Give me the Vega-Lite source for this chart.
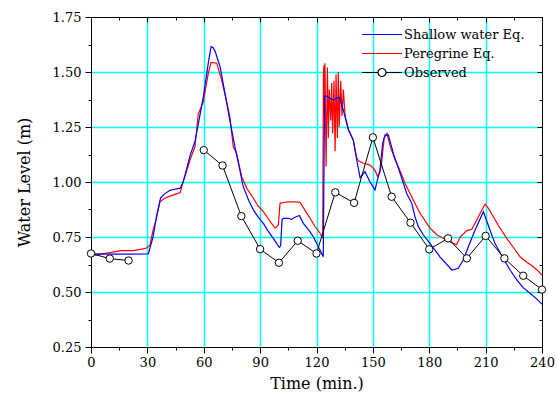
{
  "description": "Water level comparison, revision 9",
  "layer": [
    {
      "data": {"name": "models"},
      "mark": {"type": "line", "strokeWidth": 1.2},
      "encoding": {
        "x": {"field": "t", "type": "quantitative",
          "scale": {"domain": [0, 240], "nice": false, "zero": false},
          "axis": {"orient": "bottom", "values": [0,15,30,45,60,75,90,105,120,135,150,165,180,195,210,225,240],
            "labelExpr": "datum.value % 30 === 0 ? datum.label : ''",
            "tickSize": {"condition": {"test": "datum.value % 30 === 0", "value": 6}, "value": 3},
            "tickColor": "black", "domainColor": "black", "labelColor": "black",
            "grid": true, "gridColor": "#00ffff", "gridWidth": 1.5,
            "gridOpacity": {"condition": {"test": "datum.value % 30 === 0 && datum.value > 0 && datum.value < 240", "value": 1}, "value": 0},
            "labelFont": "DejaVu Serif", "labelFontWeight": "normal",
            "labelFontSize": 13, "labelPadding": 3, "labelOverlap": false, "labelFlush": false,
            "title": "Time (min.)", "titleFont": "DejaVu Serif", "titleFontSize": 16, "titleFontWeight": "normal", "titleColor": "black", "titlePadding": 6}},
        "y": {"field": "y", "type": "quantitative",
          "scale": {"domain": [0.25, 1.75], "nice": false, "zero": false},
          "axis": {"orient": "left", "values": [0.25,0.375,0.5,0.625,0.75,0.875,1,1.125,1.25,1.375,1.5,1.625,1.75],
            "labelExpr": "abs(datum.value*4 - round(datum.value*4)) < 0.001 ? format(datum.value, '.2f') : ''",
            "tickSize": {"condition": {"test": "abs(datum.value*4 - round(datum.value*4)) < 0.001", "value": 6}, "value": 3},
            "tickColor": "black", "domainColor": "black", "labelColor": "black",
            "grid": true, "gridColor": "#00ffff", "gridWidth": 1.5,
            "gridOpacity": {"condition": {"test": "abs(datum.value*4 - round(datum.value*4)) < 0.001 && datum.value > 0.3 && datum.value < 1.7", "value": 1}, "value": 0},
            "labelFont": "DejaVu Serif", "labelFontWeight": "normal",
            "labelFontSize": 13, "labelPadding": 4, "labelOverlap": false, "labelFlush": false,
            "title": "Water Level (m)", "titleFont": "DejaVu Serif", "titleFontSize": 16, "titleFontWeight": "normal", "titleColor": "black", "titlePadding": 20}},
        "color": {"field": "s", "type": "nominal",
          "scale": {"domain": ["Shallow water Eq.", "Peregrine Eq.", "Observed"], "range": ["#0000ff", "#ff0000", "#000000"]},
          "legend": {"title": null, "orient": "none", "legendX": 270, "legendY": 10, "padding": 0,
            "symbolType": "stroke", "symbolSize": 1600, "symbolStrokeWidth": 1.2, "clipHeight": 15,
            "labelFontSize": 13, "labelFont": "DejaVu Serif", "labelColor": "black", "labelOffset": 1, "rowPadding": 4,
            "encode": {"symbols": {"update": {
              "shape": {"signal": "datum.value === 'Observed' ? 'M-1,0H-0.2M0.2,0H1M0.2,0A0.2,0.2 0 1,1 -0.2,0A0.2,0.2 0 1,1 0.2,0' : 'stroke'"},
              "fill": {"value": "white"}}}}}}
      }
    },
    {
      "data": {"name": "obs"},
      "mark": {"type": "line", "strokeWidth": 1, "color": "black"},
      "encoding": {
        "x": {"field": "t", "type": "quantitative",
          "scale": {"domain": [0, 240], "nice": false, "zero": false},
          "axis": {"orient": "top", "values": [0,15,30,45,60,75,90,105,120,135,150,165,180,195,210,225,240],
            "labels": false, "grid": false, "title": null, "domain": true, "ticks": true, "domainColor": "black", "tickColor": "black",
            "tickSize": {"condition": {"test": "datum.value % 30 === 0", "value": -5}, "value": -3}}},
        "y": {"field": "y", "type": "quantitative",
          "scale": {"domain": [0.25, 1.75], "nice": false, "zero": false},
          "axis": {"orient": "right", "values": [0.25,0.375,0.5,0.625,0.75,0.875,1,1.125,1.25,1.375,1.5,1.625,1.75],
            "labels": false, "grid": false, "title": null, "domain": true, "ticks": true, "domainColor": "black", "tickColor": "black",
            "tickSize": {"condition": {"test": "abs(datum.value*4 - round(datum.value*4)) < 0.001", "value": -5}, "value": -3}}},
        "detail": {"field": "seg", "type": "nominal"}
      }
    },
    {
      "data": {"name": "obs"},
      "mark": {"type": "point", "shape": "circle", "filled": true, "fill": "white", "stroke": "black", "strokeWidth": 1, "size": 55, "opacity": 1},
      "encoding": {
        "x": {"field": "t", "type": "quantitative", "scale": {"domain": [0, 240], "nice": false, "zero": false}, "axis": null},
        "y": {"field": "y", "type": "quantitative", "scale": {"domain": [0.25, 1.75], "nice": false, "zero": false}, "axis": null}
      }
    }
  ],
  "resolve": {"scale": {"x": "independent", "y": "independent"}, "axis": {"x": "independent", "y": "independent"}},
  "$schema": "https://vega.github.io/schema/vega-lite/v6.json",
  "width": 451,
  "height": 330,
  "autosize": {"type": "none"},
  "padding": {"left": 91, "top": 17, "right": 15, "bottom": 56},
  "background": "white",
  "config": {
    "font": "DejaVu Serif",
    "view": {"stroke": "black", "strokeWidth": 1},
    "axis": {"labelFont": "DejaVu Serif", "titleFont": "DejaVu Serif", "titleFontWeight": "normal", "labelFontWeight": "normal"},
    "legend": {"labelFont": "DejaVu Serif", "labelFontWeight": "normal"}
  },
  "datasets": {
    "models": [
      {"s":"Peregrine Eq.","t":0,"y":0.664},{"s":"Peregrine Eq.","t":5,"y":0.672},{"s":"Peregrine Eq.","t":10,"y":0.679},{"s":"Peregrine Eq.","t":16,"y":0.688},{"s":"Peregrine Eq.","t":22.5,"y":0.688},{"s":"Peregrine Eq.","t":27,"y":0.695},{"s":"Peregrine Eq.","t":29.6,"y":0.7},{"s":"Peregrine Eq.","t":31.4,"y":0.714},{"s":"Peregrine Eq.","t":33,"y":0.78},{"s":"Peregrine Eq.","t":34.8,"y":0.835},{"s":"Peregrine Eq.","t":36.7,"y":0.91},{"s":"Peregrine Eq.","t":39,"y":0.925},{"s":"Peregrine Eq.","t":42,"y":0.936},{"s":"Peregrine Eq.","t":45,"y":0.945},{"s":"Peregrine Eq.","t":47.4,"y":0.952},{"s":"Peregrine Eq.","t":49,"y":1.0},{"s":"Peregrine Eq.","t":50.5,"y":1.04},{"s":"Peregrine Eq.","t":52.7,"y":1.1},{"s":"Peregrine Eq.","t":55.3,"y":1.16},{"s":"Peregrine Eq.","t":57.1,"y":1.31},{"s":"Peregrine Eq.","t":59.8,"y":1.365},{"s":"Peregrine Eq.","t":62.4,"y":1.494},{"s":"Peregrine Eq.","t":63.9,"y":1.544},{"s":"Peregrine Eq.","t":66.9,"y":1.54},{"s":"Peregrine Eq.","t":69.5,"y":1.464},{"s":"Peregrine Eq.","t":72.2,"y":1.365},{"s":"Peregrine Eq.","t":74,"y":1.29},{"s":"Peregrine Eq.","t":75.7,"y":1.16},{"s":"Peregrine Eq.","t":77.5,"y":1.13},{"s":"Peregrine Eq.","t":80.2,"y":1.024},{"s":"Peregrine Eq.","t":83,"y":0.97},{"s":"Peregrine Eq.","t":86.4,"y":0.926},{"s":"Peregrine Eq.","t":89,"y":0.89},{"s":"Peregrine Eq.","t":91.7,"y":0.865},{"s":"Peregrine Eq.","t":95,"y":0.825},{"s":"Peregrine Eq.","t":97.9,"y":0.79},{"s":"Peregrine Eq.","t":99.7,"y":0.805},{"s":"Peregrine Eq.","t":100.6,"y":0.903},{"s":"Peregrine Eq.","t":103,"y":0.908},{"s":"Peregrine Eq.","t":105.9,"y":0.91},{"s":"Peregrine Eq.","t":108.5,"y":0.91},{"s":"Peregrine Eq.","t":111.2,"y":0.908},{"s":"Peregrine Eq.","t":114,"y":0.87},{"s":"Peregrine Eq.","t":116.6,"y":0.835},{"s":"Peregrine Eq.","t":119,"y":0.8},{"s":"Peregrine Eq.","t":121.9,"y":0.767},{"s":"Peregrine Eq.","t":123.3,"y":0.744},{"s":"Peregrine Eq.","t":123.7,"y":1.5},{"s":"Peregrine Eq.","t":124.0,"y":1.53},{"s":"Peregrine Eq.","t":124.3,"y":1.28},{"s":"Peregrine Eq.","t":124.5,"y":1.54},{"s":"Peregrine Eq.","t":125.1,"y":1.07},{"s":"Peregrine Eq.","t":125.8,"y":1.52},{"s":"Peregrine Eq.","t":126.3,"y":1.2},{"s":"Peregrine Eq.","t":126.8,"y":1.42},{"s":"Peregrine Eq.","t":127.6,"y":1.28},{"s":"Peregrine Eq.","t":128.1,"y":1.45},{"s":"Peregrine Eq.","t":128.6,"y":1.22},{"s":"Peregrine Eq.","t":129.3,"y":1.46},{"s":"Peregrine Eq.","t":129.9,"y":1.14},{"s":"Peregrine Eq.","t":130.4,"y":1.49},{"s":"Peregrine Eq.","t":131.1,"y":1.2},{"s":"Peregrine Eq.","t":131.6,"y":1.5},{"s":"Peregrine Eq.","t":132.1,"y":1.25},{"s":"Peregrine Eq.","t":132.9,"y":1.46},{"s":"Peregrine Eq.","t":133.6,"y":1.3},{"s":"Peregrine Eq.","t":134.3,"y":1.42},{"s":"Peregrine Eq.","t":135.2,"y":1.3},{"s":"Peregrine Eq.","t":137,"y":1.24},{"s":"Peregrine Eq.","t":139.6,"y":1.19},{"s":"Peregrine Eq.","t":141.4,"y":1.11},{"s":"Peregrine Eq.","t":142.5,"y":1.095},{"s":"Peregrine Eq.","t":145,"y":1.085},{"s":"Peregrine Eq.","t":148.5,"y":1.077},{"s":"Peregrine Eq.","t":151,"y":1.055},{"s":"Peregrine Eq.","t":152.5,"y":1.025},{"s":"Peregrine Eq.","t":153.8,"y":1.045},{"s":"Peregrine Eq.","t":154.6,"y":1.085},{"s":"Peregrine Eq.","t":156,"y":1.2},{"s":"Peregrine Eq.","t":157.5,"y":1.22},{"s":"Peregrine Eq.","t":159,"y":1.17},{"s":"Peregrine Eq.","t":161.8,"y":1.1},{"s":"Peregrine Eq.","t":164,"y":1.06},{"s":"Peregrine Eq.","t":167.1,"y":0.994},{"s":"Peregrine Eq.","t":171.5,"y":0.918},{"s":"Peregrine Eq.","t":175.1,"y":0.858},{"s":"Peregrine Eq.","t":180.4,"y":0.79},{"s":"Peregrine Eq.","t":184,"y":0.76},{"s":"Peregrine Eq.","t":187.5,"y":0.744},{"s":"Peregrine Eq.","t":192.8,"y":0.721},{"s":"Peregrine Eq.","t":194.5,"y":0.715},{"s":"Peregrine Eq.","t":196.4,"y":0.75},{"s":"Peregrine Eq.","t":200,"y":0.779},{"s":"Peregrine Eq.","t":202.6,"y":0.785},{"s":"Peregrine Eq.","t":205.3,"y":0.827},{"s":"Peregrine Eq.","t":207.5,"y":0.865},{"s":"Peregrine Eq.","t":209.7,"y":0.9},{"s":"Peregrine Eq.","t":211.5,"y":0.88},{"s":"Peregrine Eq.","t":214.1,"y":0.842},{"s":"Peregrine Eq.","t":217,"y":0.8},{"s":"Peregrine Eq.","t":221.2,"y":0.744},{"s":"Peregrine Eq.","t":225,"y":0.7},{"s":"Peregrine Eq.","t":228.3,"y":0.66},{"s":"Peregrine Eq.","t":232,"y":0.635},{"s":"Peregrine Eq.","t":235.4,"y":0.615},{"s":"Peregrine Eq.","t":238,"y":0.595},{"s":"Peregrine Eq.","t":240,"y":0.577},
      {"s":"Shallow water Eq.","t":0,"y":0.673},{"s":"Shallow water Eq.","t":10,"y":0.672},{"s":"Shallow water Eq.","t":20,"y":0.672},{"s":"Shallow water Eq.","t":30.5,"y":0.673},{"s":"Shallow water Eq.","t":33,"y":0.75},{"s":"Shallow water Eq.","t":35,"y":0.85},{"s":"Shallow water Eq.","t":37,"y":0.927},{"s":"Shallow water Eq.","t":39,"y":0.945},{"s":"Shallow water Eq.","t":42,"y":0.962},{"s":"Shallow water Eq.","t":45,"y":0.968},{"s":"Shallow water Eq.","t":47.5,"y":0.972},{"s":"Shallow water Eq.","t":49,"y":1.0},{"s":"Shallow water Eq.","t":50,"y":1.03},{"s":"Shallow water Eq.","t":52.7,"y":1.12},{"s":"Shallow water Eq.","t":55.3,"y":1.183},{"s":"Shallow water Eq.","t":58,"y":1.305},{"s":"Shallow water Eq.","t":59.8,"y":1.388},{"s":"Shallow water Eq.","t":62.4,"y":1.54},{"s":"Shallow water Eq.","t":63.9,"y":1.615},{"s":"Shallow water Eq.","t":65,"y":1.61},{"s":"Shallow water Eq.","t":66,"y":1.595},{"s":"Shallow water Eq.","t":68.7,"y":1.524},{"s":"Shallow water Eq.","t":71.3,"y":1.403},{"s":"Shallow water Eq.","t":74,"y":1.275},{"s":"Shallow water Eq.","t":76.6,"y":1.16},{"s":"Shallow water Eq.","t":79.3,"y":1.05},{"s":"Shallow water Eq.","t":81,"y":0.979},{"s":"Shallow water Eq.","t":84,"y":0.915},{"s":"Shallow water Eq.","t":86.4,"y":0.873},{"s":"Shallow water Eq.","t":89,"y":0.84},{"s":"Shallow water Eq.","t":91.7,"y":0.812},{"s":"Shallow water Eq.","t":94,"y":0.78},{"s":"Shallow water Eq.","t":97,"y":0.744},{"s":"Shallow water Eq.","t":100.2,"y":0.703},{"s":"Shallow water Eq.","t":100.9,"y":0.71},{"s":"Shallow water Eq.","t":101.7,"y":0.83},{"s":"Shallow water Eq.","t":102.5,"y":0.835},{"s":"Shallow water Eq.","t":105,"y":0.835},{"s":"Shallow water Eq.","t":106.8,"y":0.83},{"s":"Shallow water Eq.","t":108.5,"y":0.84},{"s":"Shallow water Eq.","t":110.9,"y":0.848},{"s":"Shallow water Eq.","t":113,"y":0.812},{"s":"Shallow water Eq.","t":116,"y":0.78},{"s":"Shallow water Eq.","t":118.3,"y":0.751},{"s":"Shallow water Eq.","t":121.9,"y":0.69},{"s":"Shallow water Eq.","t":123.6,"y":0.66},{"s":"Shallow water Eq.","t":124.3,"y":1.39},{"s":"Shallow water Eq.","t":125.5,"y":1.39},{"s":"Shallow water Eq.","t":127.2,"y":1.38},{"s":"Shallow water Eq.","t":129,"y":1.373},{"s":"Shallow water Eq.","t":130.5,"y":1.38},{"s":"Shallow water Eq.","t":132.1,"y":1.385},{"s":"Shallow water Eq.","t":134.3,"y":1.327},{"s":"Shallow water Eq.","t":137,"y":1.236},{"s":"Shallow water Eq.","t":139.6,"y":1.19},{"s":"Shallow water Eq.","t":141.4,"y":1.1},{"s":"Shallow water Eq.","t":143.2,"y":1.02},{"s":"Shallow water Eq.","t":145.8,"y":1.047},{"s":"Shallow water Eq.","t":148.5,"y":1.0},{"s":"Shallow water Eq.","t":151.1,"y":0.964},{"s":"Shallow water Eq.","t":153.8,"y":1.055},{"s":"Shallow water Eq.","t":155.2,"y":1.176},{"s":"Shallow water Eq.","t":156.5,"y":1.214},{"s":"Shallow water Eq.","t":158.2,"y":1.214},{"s":"Shallow water Eq.","t":160.9,"y":1.13},{"s":"Shallow water Eq.","t":164.5,"y":1.04},{"s":"Shallow water Eq.","t":168,"y":0.948},{"s":"Shallow water Eq.","t":170.7,"y":0.903},{"s":"Shallow water Eq.","t":172.4,"y":0.842},{"s":"Shallow water Eq.","t":174.2,"y":0.797},{"s":"Shallow water Eq.","t":176.9,"y":0.759},{"s":"Shallow water Eq.","t":180.4,"y":0.721},{"s":"Shallow water Eq.","t":185.7,"y":0.66},{"s":"Shallow water Eq.","t":192,"y":0.6},{"s":"Shallow water Eq.","t":195.5,"y":0.608},{"s":"Shallow water Eq.","t":198.1,"y":0.645},{"s":"Shallow water Eq.","t":201,"y":0.71},{"s":"Shallow water Eq.","t":204.4,"y":0.782},{"s":"Shallow water Eq.","t":208.8,"y":0.865},{"s":"Shallow water Eq.","t":212.3,"y":0.782},{"s":"Shallow water Eq.","t":215,"y":0.72},{"s":"Shallow water Eq.","t":219.4,"y":0.653},{"s":"Shallow water Eq.","t":223,"y":0.6},{"s":"Shallow water Eq.","t":226.6,"y":0.555},{"s":"Shallow water Eq.","t":230,"y":0.52},{"s":"Shallow water Eq.","t":233.6,"y":0.494},{"s":"Shallow water Eq.","t":237,"y":0.47},{"s":"Shallow water Eq.","t":240,"y":0.445}
    ],
    "obs": [
      {"s":"Observed","seg":1,"t":0,"y":0.675},{"s":"Observed","seg":1,"t":10,"y":0.652},{"s":"Observed","seg":1,"t":20,"y":0.643},
      {"s":"Observed","seg":2,"t":60,"y":1.145},{"s":"Observed","seg":2,"t":70,"y":1.075},{"s":"Observed","seg":2,"t":80,"y":0.845},{"s":"Observed","seg":2,"t":90,"y":0.695},{"s":"Observed","seg":2,"t":100,"y":0.633},{"s":"Observed","seg":2,"t":110,"y":0.733},{"s":"Observed","seg":2,"t":120,"y":0.675},{"s":"Observed","seg":2,"t":130,"y":0.953},{"s":"Observed","seg":2,"t":140,"y":0.905},{"s":"Observed","seg":2,"t":150,"y":1.203},{"s":"Observed","seg":2,"t":160,"y":0.933},{"s":"Observed","seg":2,"t":170,"y":0.815},{"s":"Observed","seg":2,"t":180,"y":0.694},{"s":"Observed","seg":2,"t":190,"y":0.744},{"s":"Observed","seg":2,"t":200,"y":0.653},{"s":"Observed","seg":2,"t":210,"y":0.755},{"s":"Observed","seg":2,"t":220,"y":0.653},{"s":"Observed","seg":2,"t":230,"y":0.574},{"s":"Observed","seg":2,"t":240,"y":0.511}
    ]
  }
}
